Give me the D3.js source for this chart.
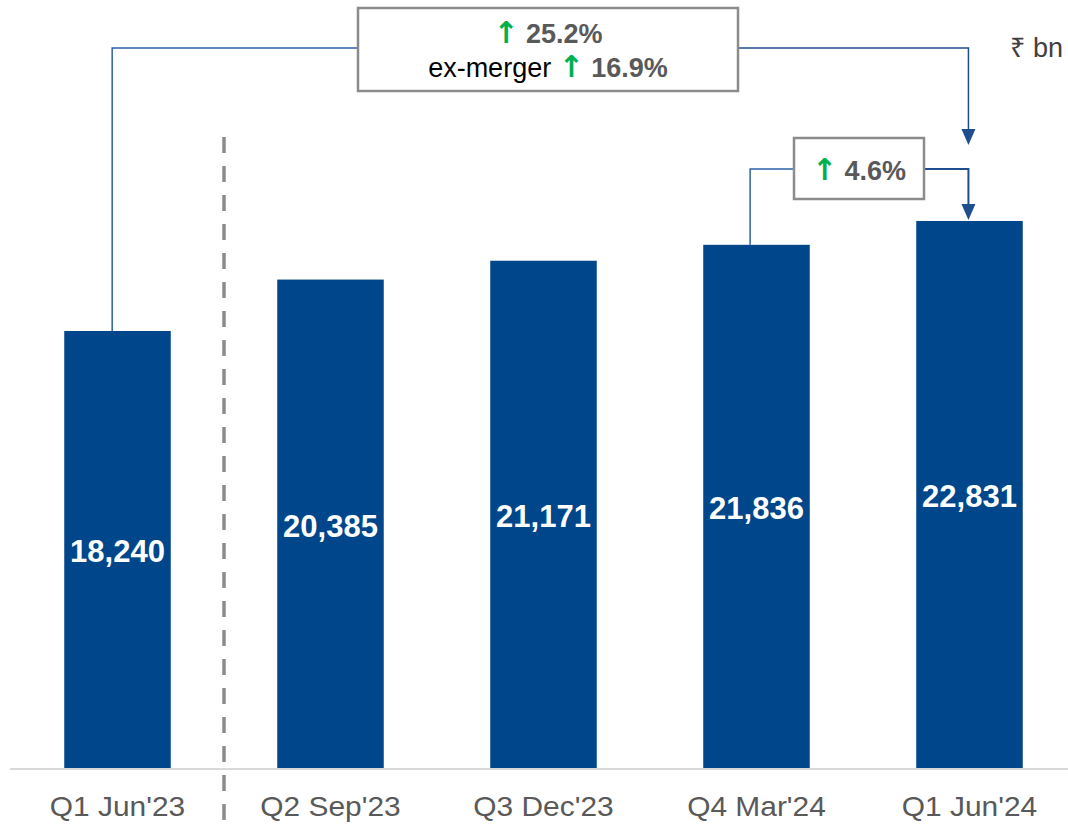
<!DOCTYPE html>
<html>
<head>
<meta charset="utf-8">
<script src="https://cdn.jsdelivr.net/npm/d3@7"></script>
<style>
  body { margin: 0; background: #fff; }
  svg { display: block; font-family: "Liberation Sans", Arial, "Noto Sans", "DejaVu Sans", sans-serif; }
</style>
</head>
<body>
<div id="chart"></div>
<script>
//
//    Chart data
//
const categories = ["Q1 Jun'23", "Q2 Sep'23", "Q3 Dec'23", "Q4 Mar'24", "Q1 Jun'24"]
const values = [18240, 20385, 21171, 21836, 22831]
const valueLabels = ['18,240', '20,385', '21,171', '21,836', '22,831']
const unitLabel = '₹ bn'
const yearGrowth = '25.2%'
const exMergerGrowth = '16.9%'
const quarterGrowth = '4.6%'

const width = 1068
const height = 826
const barColour = '#00468B'
const lineColour = '#2E62A6'
const arrowColour = '#1F4E8F'
const greyText = '#595959'
const green = '#00B050'

const svg = d3.select('#chart').append('svg')
  .attr('width', width)
  .attr('height', height)

const x = d3.scaleBand()
  .domain(categories)
  .range([11, 1076])
  .paddingInner(0.5)
  .paddingOuter(0.25)

const y = d3.scaleLinear()
  .domain([0, 25000])
  .range([768, 169])

//
// Axis line
//
svg.append('line')
  .attr('x1', 10).attr('x2', width)
  .attr('y1', 769).attr('y2', 769)
  .attr('stroke', '#D9D9D9')
  .attr('stroke-width', 2)

//
// Bars and values
//
svg.selectAll('rect.bar')
  .data(values)
  .enter()
  .append('rect')
    .attr('class', 'bar')
    .attr('x', (d, i) => x(categories[i]))
    .attr('y', d => y(d))
    .attr('width', x.bandwidth())
    .attr('height', d => y(0) - y(d))
    .attr('fill', barColour)

svg.selectAll('text.value')
  .data(values)
  .enter()
  .append('text')
    .attr('class', 'value')
    .attr('x', (d, i) => x(categories[i]) + x.bandwidth() / 2)
    .attr('y', d => (y(d) + y(0)) / 2 + 13)
    .attr('text-anchor', 'middle')
    .attr('fill', '#fff')
    .attr('font-size', 31)
    .attr('font-weight', 'bold')
    .text((d, i) => valueLabels[i])

//
// Category labels (stretched a little, as in the original)
//
svg.selectAll('text.cat')
  .data(categories)
  .enter()
  .append('text')
    .attr('class', 'cat')
    .attr('transform', d => 'translate(' + (x(d) + x.bandwidth() / 2) + ',816) scale(1.15,1.06)')
    .attr('text-anchor', 'middle')
    .attr('fill', greyText)
    .attr('font-size', 26)
    .text(d => d)

//
// Dashed divider after first quarter
//
const dividerX = (x(categories[0]) + x.bandwidth() + x(categories[1])) / 2
svg.append('line')
  .attr('x1', dividerX).attr('x2', dividerX)
  .attr('y1', 137).attr('y2', height)
  .attr('stroke', '#8C8C8C')
  .attr('stroke-width', 3.5)
  .attr('stroke-dasharray', '16 13')

//
// Unit label
//
svg.append('text')
  .attr('x', 1063).attr('y', 57)
  .attr('text-anchor', 'end')
  .attr('fill', '#404040')
  .attr('font-size', 27)
  .text(unitLabel)

//
// Growth brackets
//
const arrowX = x(categories[4]) + x.bandwidth() * 0.49
const bar1X = x(categories[0]) + x.bandwidth() * 0.45
const bar4X = x(categories[3]) + x.bandwidth() * 0.44

function arrowHead (tipX, tipY) {
  svg.append('path')
    .attr('d', 'M' + (tipX - 7) + ',' + (tipY - 16) + 'L' + (tipX + 7) + ',' + (tipY - 16) + 'L' + tipX + ',' + tipY + 'Z')
    .attr('fill', arrowColour)
}

// year on year bracket
svg.append('path')
  .attr('d', 'M' + bar1X + ',' + y(values[0]) + 'V48H358')
  .attr('fill', 'none').attr('stroke', lineColour).attr('stroke-width', 1.5)
svg.append('path')
  .attr('d', 'M738,48H' + arrowX + 'V130')
  .attr('fill', 'none').attr('stroke', arrowColour).attr('stroke-width', 1.5)
arrowHead(arrowX, 145)

// quarter on quarter bracket
svg.append('path')
  .attr('d', 'M' + bar4X + ',' + y(values[3]) + 'V169H794')
  .attr('fill', 'none').attr('stroke', lineColour).attr('stroke-width', 1.5)
svg.append('path')
  .attr('d', 'M924,169H' + arrowX + 'V204')
  .attr('fill', 'none').attr('stroke', arrowColour).attr('stroke-width', 2)
arrowHead(arrowX, y(values[4]) - 1)

//
// Annotation boxes
//
function upArrow (text) {
  text.append('tspan')
    .attr('fill', green)
    .attr('font-family', '"DejaVu Sans", sans-serif')
    .attr('font-weight', 'bold')
    .attr('font-size', 30)
    .text('↑')
  text.append('tspan').text(' ')
}

svg.append('rect')
  .attr('x', 358).attr('y', 8).attr('width', 380).attr('height', 83)
  .attr('fill', '#fff').attr('stroke', '#8C8C8C').attr('stroke-width', 2.5)

const line1 = svg.append('text')
  .attr('x', 548).attr('y', 43)
  .attr('text-anchor', 'middle')
  .attr('font-size', 27)
upArrow(line1)
line1.append('tspan').attr('fill', greyText).attr('font-weight', 'bold').text(yearGrowth)

const line2 = svg.append('text')
  .attr('x', 548).attr('y', 77)
  .attr('text-anchor', 'middle')
  .attr('font-size', 27)
line2.append('tspan').attr('fill', '#000').text('ex-merger ')
upArrow(line2)
line2.append('tspan').attr('fill', greyText).attr('font-weight', 'bold').text(exMergerGrowth)

svg.append('rect')
  .attr('x', 794).attr('y', 138).attr('width', 130).attr('height', 61)
  .attr('fill', '#fff').attr('stroke', '#8C8C8C').attr('stroke-width', 2.5)

const line3 = svg.append('text')
  .attr('x', 859).attr('y', 180)
  .attr('text-anchor', 'middle')
  .attr('font-size', 27)
upArrow(line3)
line3.append('tspan').attr('fill', greyText).attr('font-weight', 'bold').text(quarterGrowth)
</script>
</body>
</html>
